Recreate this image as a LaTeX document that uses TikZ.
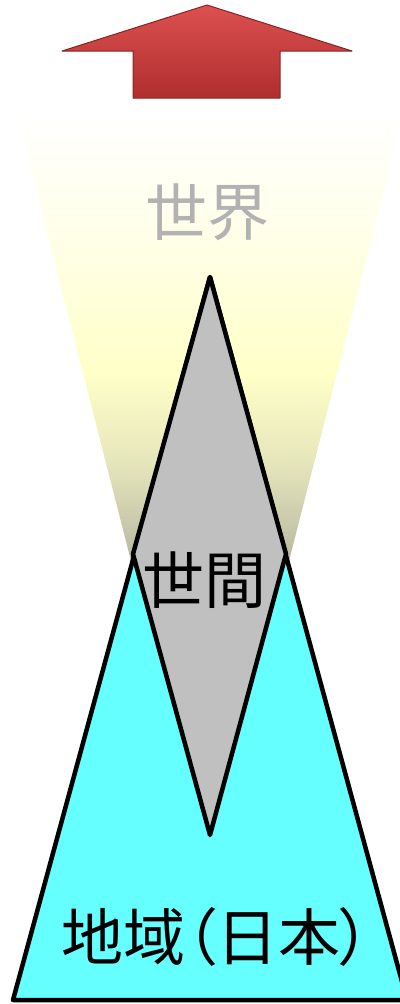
\documentclass[tikz,border=0pt]{standalone}
\usepackage{fontspec}
\newfontfamily\jp{Noto Sans CJK JP}
\newfontfamily\jpp[RawFeature=+palt]{Noto Sans CJK JP}
\definecolor{cyanfill}{HTML}{66FFFF}
\definecolor{diagray}{HTML}{C0C0C0}
\definecolor{worldtext}{HTML}{B2B2B2}
\definecolor{funnelyel}{HTML}{FFFFC8}
\definecolor{funnellight}{HTML}{FFFFE6}
\definecolor{funnelmid}{HTML}{E6E6BC}
\definecolor{funnelgray}{HTML}{B8B8A2}
\definecolor{arrowtop}{HTML}{DC5050}
\definecolor{arrowbot}{HTML}{B02E2E}
\definecolor{arrowedge}{HTML}{862424}
\pgfdeclareverticalshading{funnelshade}{100bp}{color(0bp)=(funnelgray); color(25bp)=(funnelgray); color(36bp)=(funnelmid); color(46bp)=(funnelyel); color(60bp)=(funnellight); color(75bp)=(white); color(100bp)=(white)}
\tikzset{
  outline/.style={draw=black, line width=4.5pt, line join=round},
  lbl/.style={font=\jp\fontsize{62}{62}\selectfont, inner sep=0pt},
}
\begin{document}
\begin{tikzpicture}[x=1pt,y=-1pt]
\useasboundingbox (0,0) rectangle (399,1004);
% up arrow
\shade[top color=arrowtop, bottom color=arrowbot, draw=arrowedge, line width=1pt, line join=round]
  (207,5) -- (352,51) -- (280,51) -- (280,98) -- (133,98) -- (133,51) -- (62,51) -- cycle;
% funnel
\begin{scope}
  \clip (17,115) -- (403,115) -- (210,870) -- cycle;
  \shade[shading=funnelshade] (0,115) rectangle (410,560);
  \fill[funnelgray] (0,559) rectangle (410,870);
\end{scope}
% cyan triangle
\coordinate (apex) at (210,277);
\coordinate (bl) at (13,1000);
\coordinate (br) at (407,1000);
\filldraw[fill=cyanfill, outline] (apex) -- (bl) -- (br) -- cycle;
% diamond
\coordinate (dt) at (210,277);
\coordinate (dl) at (133,554);
\coordinate (db) at (210,835);
\coordinate (dr) at (286,554);
\filldraw[fill=diagray, outline] (dt) -- (dl) -- (db) -- (dr) -- cycle;
% labels
\node[lbl, text=worldtext] (world) at (207,212) {世界};
\node[lbl] (seken) at (204,580) {世間};
\node[lbl] (chiiki) at (216,937) {地域{\jpp （}日本{\jpp ）}};
\end{tikzpicture}
\end{document}
